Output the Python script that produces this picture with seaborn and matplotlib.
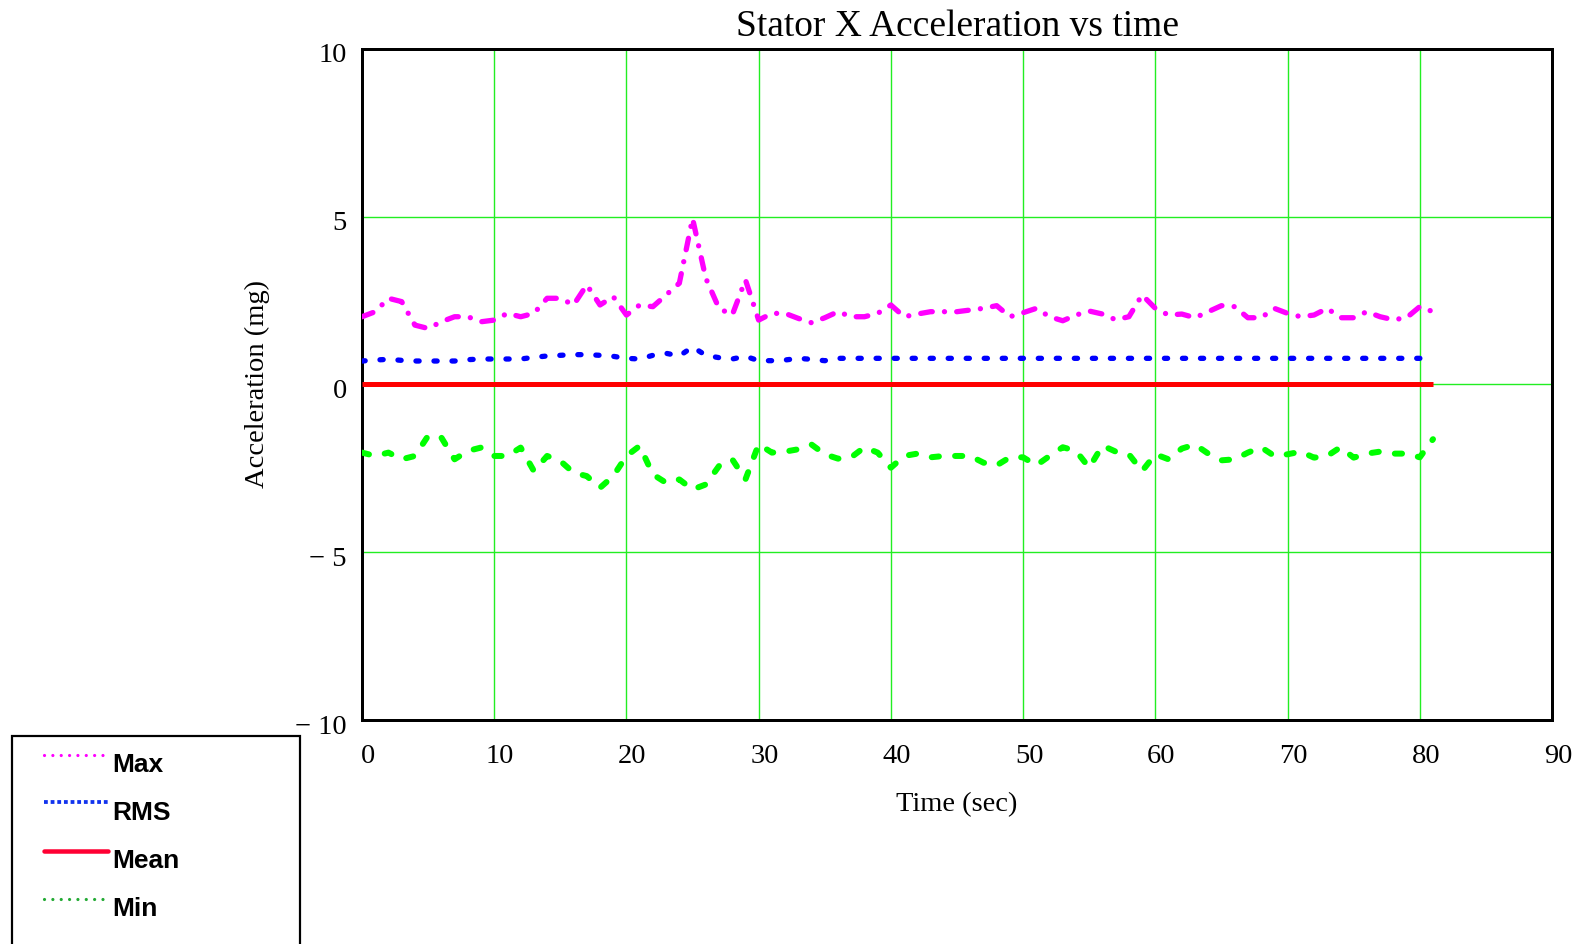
import matplotlib
matplotlib.use("Agg")
import matplotlib.pyplot as plt
import matplotlib.transforms as mtransforms
from matplotlib.lines import Line2D
from matplotlib.patches import Rectangle
import seaborn as sns
import pandas as pd

# ---------------- data ----------------
time_s = list(range(0, 82))

max_vals = [2.02, 2.17, 2.57, 2.47, 1.77, 1.67, 1.87, 2.02, 2.02, 1.87,
            1.92, 2.12, 2.02, 2.12, 2.57, 2.57, 2.37, 2.97, 2.37, 2.62,
            2.07, 2.37, 2.32, 2.67, 3.02, 4.95, 3.17, 2.27, 2.07, 3.12,
            1.92, 2.12, 2.12, 1.97, 1.84, 1.99, 2.17, 2.02, 2.02, 2.12,
            2.37, 2.02, 2.10, 2.17, 2.17, 2.17, 2.22, 2.27, 2.35, 2.02,
            2.14, 2.27, 2.02, 1.90, 2.07, 2.19, 2.10, 1.93, 2.02, 2.67,
            2.27, 2.07, 2.10, 1.99, 2.17, 2.35, 2.32, 1.99, 1.99, 2.27,
            2.12, 2.02, 2.07, 2.27, 1.99, 1.99, 2.17, 2.02, 1.93, 1.99,
            2.32, 2.17]

rms_vals = [0.70, 0.73, 0.75, 0.72, 0.70, 0.70, 0.70, 0.70, 0.74, 0.76,
            0.76, 0.76, 0.76, 0.81, 0.85, 0.87, 0.89, 0.89, 0.87, 0.84,
            0.78, 0.76, 0.87, 0.93, 0.85, 1.12, 0.87, 0.80, 0.76, 0.84,
            0.71, 0.71, 0.73, 0.78, 0.75, 0.71, 0.78, 0.78, 0.78, 0.78,
            0.78, 0.78, 0.78, 0.78, 0.78, 0.78, 0.78, 0.78, 0.78, 0.78,
            0.78, 0.78, 0.78, 0.78, 0.78, 0.78, 0.78, 0.78, 0.78, 0.78,
            0.78, 0.78, 0.78, 0.78, 0.78, 0.78, 0.78, 0.78, 0.78, 0.78,
            0.78, 0.78, 0.78, 0.78, 0.78, 0.78, 0.78, 0.78, 0.78, 0.78,
            0.78, 0.78]

mean_vals = [0.0, 0.0, 0.0, 0.0, 0.0, 0.0, 0.0, 0.0, 0.0, 0.0,
             0.0, 0.0, 0.0, 0.0, 0.0, 0.0, 0.0, 0.0, 0.0, 0.0,
             0.0, 0.0, 0.0, 0.0, 0.0, 0.0, 0.0, 0.0, 0.0, 0.0,
             0.0, 0.0, 0.0, 0.0, 0.0, 0.0, 0.0, 0.0, 0.0, 0.0,
             0.0, 0.0, 0.0, 0.0, 0.0, 0.0, 0.0, 0.0, 0.0, 0.0,
             0.0, 0.0, 0.0, 0.0, 0.0, 0.0, 0.0, 0.0, 0.0, 0.0,
             0.0, 0.0, 0.0, 0.0, 0.0, 0.0, 0.0, 0.0, 0.0, 0.0,
             0.0, 0.0, 0.0, 0.0, 0.0, 0.0, 0.0, 0.0, 0.0, 0.0,
             0.0, 0.0]

min_vals = [-2.03, -2.13, -2.03, -2.23, -2.13, -1.53, -1.58, -2.23, -1.98, -1.88,
            -2.13, -2.13, -1.88, -2.58, -2.13, -2.28, -2.63, -2.73, -3.08, -2.73,
            -2.13, -1.83, -2.68, -2.93, -2.83, -3.13, -2.98, -2.43, -2.23, -2.83,
            -1.78, -2.03, -2.00, -1.93, -1.79, -2.08, -2.21, -2.17, -1.87, -2.03,
            -2.48, -2.13, -2.06, -2.17, -2.13, -2.13, -2.13, -2.33, -2.41, -2.17,
            -2.17, -2.41, -2.13, -1.87, -1.98, -2.48, -1.82, -2.00, -2.08, -2.58,
            -2.08, -2.23, -1.91, -1.79, -2.06, -2.26, -2.23, -2.03, -1.87, -2.13,
            -2.08, -2.00, -2.18, -2.13, -1.87, -2.18, -2.06, -2.00, -2.06, -2.06,
            -2.17, -1.63]

x_ticks = [0, 10, 20, 30, 40, 50, 60, 70, 80, 90]
y_ticks = [-10, -5, 0, 5, 10]
y_tick_labels = ["\u2212 10", "\u2212 5", "0", "5", "10"]
legend_labels = ["Max", "RMS", "Mean", "Min"]

title = "Stator X Acceleration vs time"
x_label = "Time (sec)"
y_label = "Acceleration (mg)"

df = pd.DataFrame({"time": time_s, "Max": max_vals, "RMS": rms_vals,
                   "Mean": mean_vals, "Min": min_vals})

# ---------------- styling ----------------
sns.set_theme(style="white")
plt.rcParams["font.family"] = ["Liberation Serif", "DejaVu Serif"]

W, H = 1576, 944
fig = plt.figure(figsize=(W / 100, H / 100), dpi=100)
L, R, T, B = 362, 1552, 49, 720
ax = fig.add_axes([L / W, 1 - B / H, (R - L) / W, (B - T) / H])

px = 0.72  # points per pixel at 100 dpi

sns.lineplot(data=df, x="time", y="Max", ax=ax, color="#FF00FF",
             lw=5.3 * px, linestyle=(0, (2.2, 2.3, 0.01, 2.3)),
             dash_capstyle="round", zorder=5)
sns.lineplot(data=df, x="time", y="RMS", ax=ax, color="#0000FF",
             lw=5.3 * px, linestyle=(0, (0.6, 2.8)),
             dash_capstyle="round", zorder=5)
sns.lineplot(data=df, x="time", y="Mean", ax=ax, color="#FF0000",
             lw=5 * px, solid_capstyle="butt", zorder=5)
sns.lineplot(data=df, x="time", y="Min", ax=ax, color="#00FF00",
             lw=6 * px, linestyle=(0, (1.2, 2.7)),
             dash_capstyle="round", zorder=5)

ax.set_xlim(0, 90)
ax.set_ylim(-10, 10)
ax.set_xticks(x_ticks)
ax.set_yticks(y_ticks)
ax.set_yticklabels(y_tick_labels)
ax.tick_params(axis="both", length=0, labelsize=20.5, colors="black")
ax.tick_params(axis="x", pad=17)
ax.tick_params(axis="y", pad=11)

# x tick labels sit slightly right of the gridlines, as in the reference
offset = mtransforms.ScaledTranslation(6 / 100, 0, fig.dpi_scale_trans)
for lbl in ax.get_xticklabels():
    lbl.set_transform(lbl.get_transform() + offset)
# y tick labels sit slightly below their gridlines
yoff = mtransforms.ScaledTranslation(0, -4 / 100, fig.dpi_scale_trans)
for lbl in ax.get_yticklabels():
    lbl.set_transform(lbl.get_transform() + yoff)

ax.grid(True, color="#22EE22", lw=1.0)
ax.set_axisbelow(True)
for sp in ax.spines.values():
    sp.set_color("black")
    sp.set_linewidth(3 * px)

ax.set_title(title, fontsize=27, pad=9, color="black")
ax.set_xlabel(x_label, fontsize=20.5, labelpad=17, color="black")
ax.set_ylabel(y_label, fontsize=20.5, labelpad=18, color="black")

# ---------------- legend (bottom-left, outside the axes) ----------------
fig.add_artist(Rectangle((12 / W, 1 - 1000 / H), (300 - 12) / W, (1000 - 736) / H,
                         transform=fig.transFigure, fill=False,
                         edgecolor="black", lw=2.2 * px))
leg_styles = [
    dict(color="#FF00FF", lw=3.2 * px, linestyle=(0, (0.01, 2.6)), dash_capstyle="round"),
    dict(color="#1133EE", lw=3.8 * px, linestyle=(0, (1.0, 0.75))),
    dict(color="#FF0033", lw=4.5 * px, linestyle="-"),
    dict(color="#22AA33", lw=3.2 * px, linestyle=(0, (0.01, 2.6)), dash_capstyle="round"),
]
row_y = [755, 802, 851, 899]
for lab, st, yy in zip(legend_labels, leg_styles, row_y):
    fig.add_artist(Line2D([44 / W, 108 / W], [1 - yy / H, 1 - yy / H],
                          transform=fig.transFigure, **st))
    fig.text(112 / W, 1 - (yy + 17.5) / H, lab, fontsize=19, fontweight="bold",
             family=["Liberation Sans", "DejaVu Sans"], va="baseline", ha="left",
             color="black")

fig.savefig("out.png", dpi=100)
